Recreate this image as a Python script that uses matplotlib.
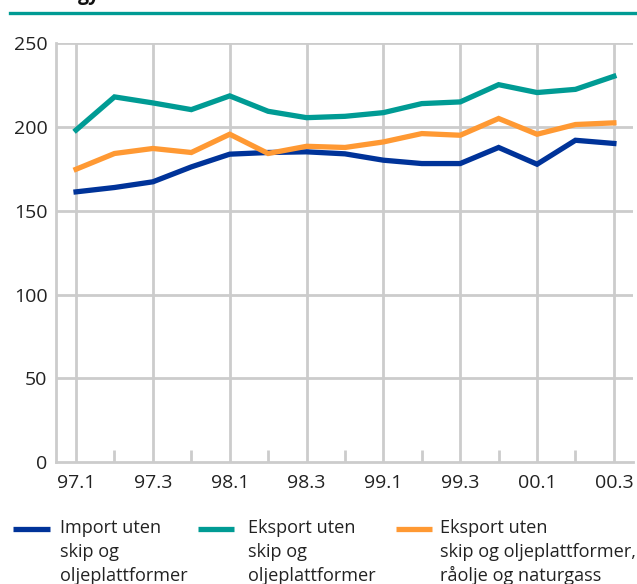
import matplotlib
matplotlib.use("Agg")
import matplotlib.pyplot as plt
from matplotlib.lines import Line2D
import numpy as np

plt.rcParams['font.family'] = ['Open Sans', 'DejaVu Sans']

# quarters 97.1 .. 00.3
quarters = ["97.1", "97.2", "97.3", "97.4", "98.1", "98.2", "98.3", "98.4",
            "99.1", "99.2", "99.3", "99.4", "00.1", "00.2", "00.3"]
import_uten = [161.3, 163.9, 167.3, 176.2, 183.8, 184.8, 185.2, 184.0,
               180.2, 178.2, 178.2, 187.8, 177.8, 192.1, 190.2]
eksport_uten = [198.2, 218.0, 214.4, 210.4, 218.6, 209.4, 205.6, 206.4,
                208.6, 214.0, 215.0, 225.3, 220.6, 222.5, 230.3]
eksport_uten_olje = [174.8, 184.2, 187.2, 184.8, 195.7, 184.2, 188.5, 187.8,
                     191.1, 196.1, 195.1, 205.1, 195.7, 201.5, 202.5]
series_labels = [["Import uten", "skip og", "oljeplattformer"],
                 ["Eksport uten", "skip og", "oljeplattformer"],
                 ["Eksport uten", "skip og oljeplattformer,", "råolje og naturgass"]]
colors = ["#003399", "#009b94", "#ff9933"]
y_ticks = [0, 50, 100, 150, 200, 250]

W, H = 637, 584
fig = plt.figure(figsize=(W / 100, H / 100), dpi=100)
ax = fig.add_axes([55.7 / W, 1 - 462 / H, (632.7 - 55.7) / W, (462 - 43.3) / H])

x = np.arange(len(quarters))
grid_c = "#cccccc"
txt_c = "#222222"

for xi in x[::2]:
    ax.axvline(xi, color=grid_c, lw=2, zorder=1)
for yi in y_ticks[1:]:
    ax.axhline(yi, color=grid_c, lw=2, zorder=1)
# short minor ticks
for xi in x[1::2]:
    ax.plot([xi, xi], [0, 7], color=grid_c, lw=2, zorder=1, solid_capstyle='butt')

for vals, c in zip([import_uten, eksport_uten, eksport_uten_olje], colors):
    ax.plot(x, vals, color=c, lw=3.8, zorder=3, solid_joinstyle='miter')

ax.set_xlim(-0.53, 14.49)
ax.set_ylim(0, 250)
ax.set_xticks(x[::2])
ax.set_xticklabels(quarters[::2])
ax.set_yticks(y_ticks)
ax.tick_params(axis='both', length=0, labelsize=14, colors=txt_c)
ax.tick_params(axis='y', pad=6)
ax.tick_params(axis='x', pad=9)
for s in ["top", "right"]:
    ax.spines[s].set_visible(False)
for s in ["left", "bottom"]:
    ax.spines[s].set_color(grid_c)
    ax.spines[s].set_linewidth(2)

# top rule and clipped heading
fig.add_artist(Line2D([10 / W, 1], [1 - 13.3 / H] * 2, color="#009b94", lw=2.4))
fig.text(100 / W, 1.0, "gy", ha='right', va='baseline', fontsize=14,
         fontweight='bold', color="#111111")

# legend
handles_x = [(13, 50), (198, 234), (396, 432)]
text_x = [60, 248, 440]
baselines = [532.7, 557, 581]
for (x0, x1), tx, lines, c in zip(handles_x, text_x, series_labels, colors):
    fig.add_artist(Line2D([x0 / W, x1 / W], [1 - 528.5 / H] * 2, color=c, lw=3.8,
                          solid_capstyle='butt'))
    for line, by in zip(lines, baselines):
        fig.text(tx / W, 1 - by / H, line, ha='left', va='baseline', fontsize=13.1,
                 color=txt_c)

fig.savefig("out.png", dpi=100)
